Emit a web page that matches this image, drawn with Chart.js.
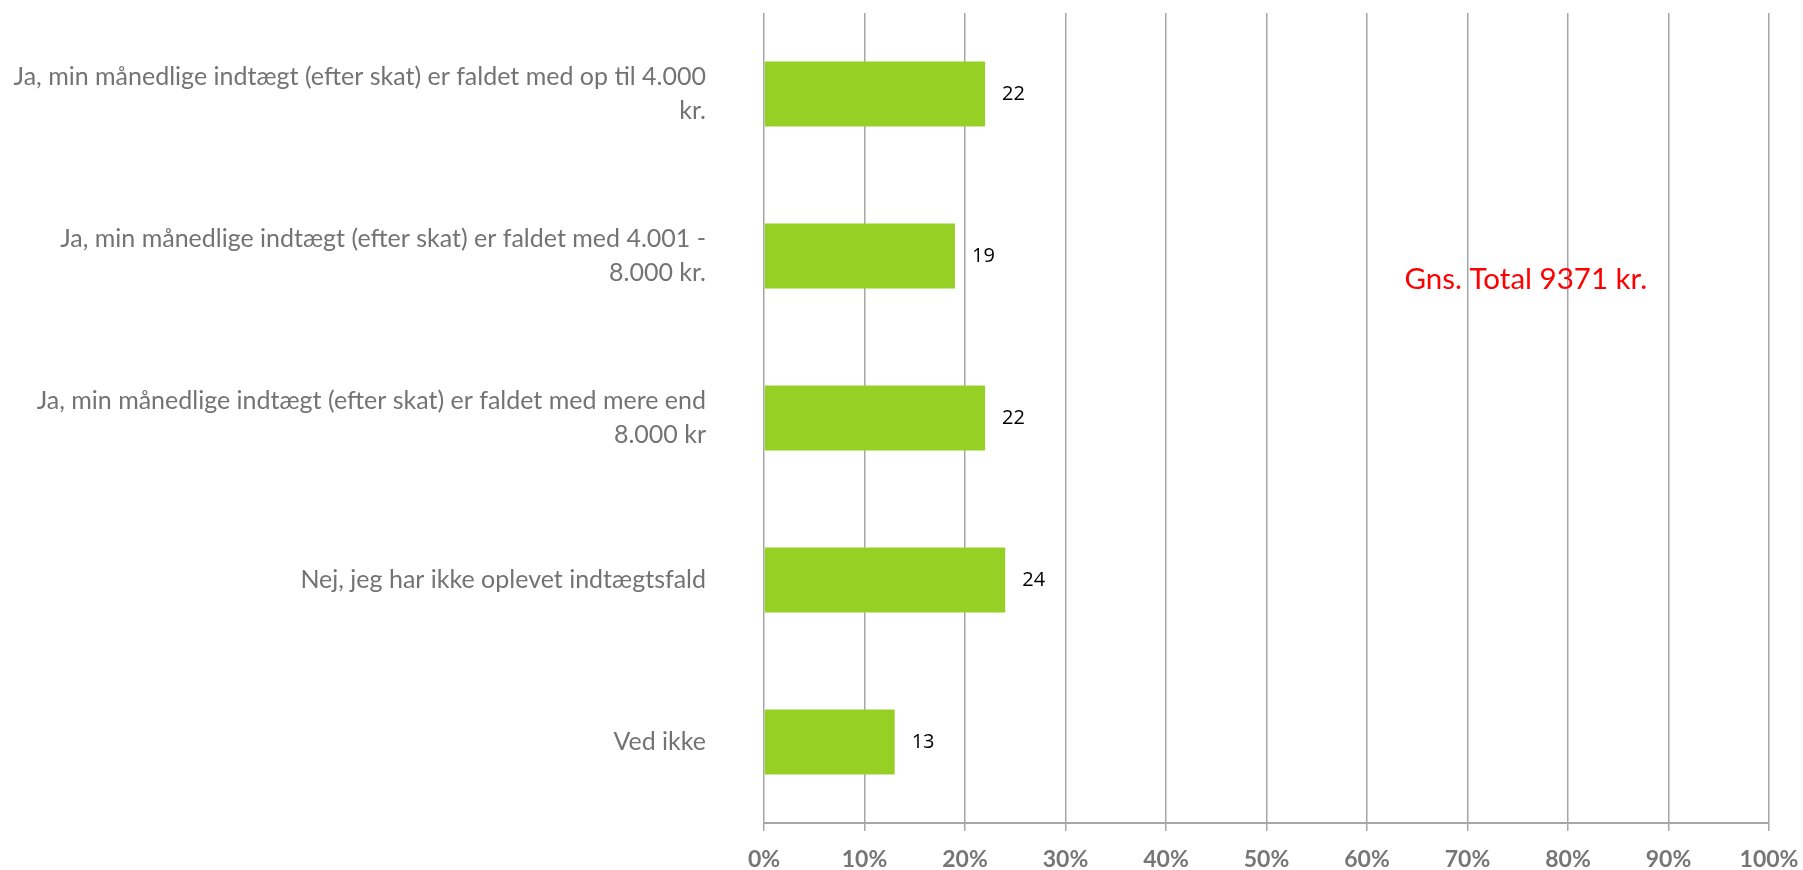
<!DOCTYPE html>
<html>
<head>
<meta charset="utf-8">
<script src="https://cdn.jsdelivr.net/npm/chart.js@4"></script>
<style>
  html, body { margin: 0; padding: 0; background: #fff; }
  #wrap { width: 1803px; height: 870px; }
</style>
</head>
<body>
<div id="wrap"><canvas id="chart"></canvas></div>
<script>
const categories = [
    ['Ja, min månedlige indtægt (efter skat) er faldet med op til 4.000', 'kr.'],
    ['Ja, min månedlige indtægt (efter skat) er faldet med 4.001 -', '8.000 kr.'],
    ['Ja, min månedlige indtægt (efter skat) er faldet med mere end', '8.000 kr'],
    'Nej, jeg har ikke oplevet indtægtsfald',
    'Ved ikke'
];
const values = [22, 19, 22, 24, 13];
const xTicks = [0, 10, 20, 30, 40, 50, 60, 70, 80, 90, 100];
const noteText = 'Gns. Total 9371 kr.';

const barLabels = {
    id: 'barLabels',
    afterDatasetsDraw(chart) {
        const ctx = chart.ctx;
        const meta = chart.getDatasetMeta(0);
        ctx.save();
        ctx.font = '20px "Open Sans"';
        ctx.fillStyle = '#000';
        ctx.textBaseline = 'middle';
        ctx.textAlign = 'left';
        meta.data.forEach((bar, i) => {
            ctx.fillText(values[i], bar.x + 17, bar.y);
        });
        ctx.restore();
    }
};

const note = {
    id: 'note',
    afterDraw(chart) {
        const ctx = chart.ctx;
        const x = chart.scales.x.getPixelForValue(75.8);
        const y = chart.scales.y.getPixelForValue(1) + 23;
        ctx.save();
        ctx.font = '29.5px Lato';
        ctx.fillStyle = '#FF0000';
        ctx.textAlign = 'center';
        ctx.textBaseline = 'middle';
        ctx.fillText(noteText, x, y);
        ctx.restore();
    }
};

const ctx = document.getElementById('chart').getContext('2d');
new Chart(ctx, {
    type: 'bar',
    data: {
        labels: categories,
        datasets: [{
            data: values,
            backgroundColor: '#96D024',
            borderWidth: 0,
            categoryPercentage: 0.4,
            barPercentage: 1
        }]
    },
    options: {
        indexAxis: 'y',
        responsive: true,
        maintainAspectRatio: false,
        animation: false,
        layout: { padding: { top: 13, right: 34, left: 0, bottom: 0 } },
        plugins: {
            legend: { display: false },
            tooltip: { enabled: false }
        },
        scales: {
            x: {
                min: 0,
                max: 100,
                afterBuildTicks(scale) {
                    scale.ticks = xTicks.map(v => ({ value: v }));
                },
                afterFit(scale) {
                    scale.height = 47;
                    scale.paddingLeft = 0;
                    scale.paddingRight = 0;
                },
                grid: {
                    color: '#A6A6A6',
                    lineWidth: 1.5,
                    drawTicks: true,
                    tickLength: 8
                },
                border: { color: '#A6A6A6', width: 2 },
                ticks: {
                    padding: 15,
                    color: '#767676',
                    font: { family: 'Lato', size: 23, weight: 'bold' },
                    callback: v => v + '%',
                    maxRotation: 0
                }
            },
            y: {
                grid: { display: false },
                border: { display: false },
                afterFit(scale) {
                    scale.width = 764;
                    scale.paddingTop = 0;
                    scale.paddingBottom = 0;
                },
                ticks: {
                    padding: 50,
                    color: '#737373',
                    font: { family: 'Lato', size: 25, lineHeight: 1.38 }
                }
            }
        }
    },
    plugins: [barLabels, note]
});
</script>
</body>
</html>
